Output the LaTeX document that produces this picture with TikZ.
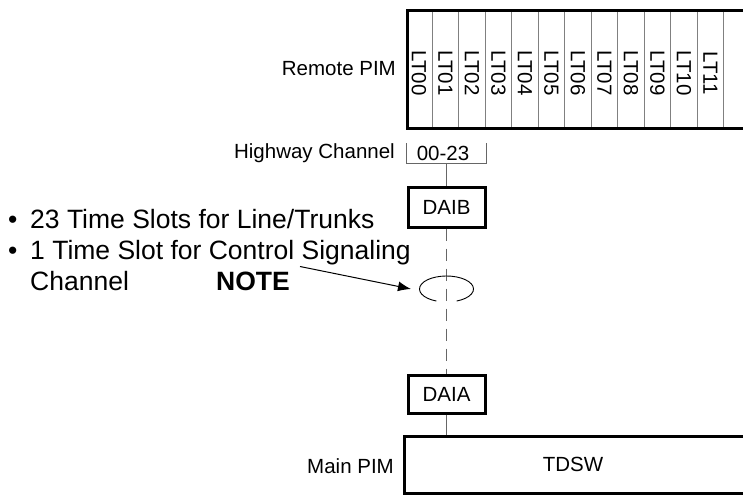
\documentclass[tikz,border=0pt]{standalone}
\usepackage{fontspec}
\setmainfont{Liberation Sans}
\usetikzlibrary{arrows.meta}
\begin{document}
\begin{tikzpicture}[x=1pt,y=-1pt,
  lbl/.style={inner sep=0pt,font=\fontsize{20.5}{24}\selectfont},
  box/.style={draw,line width=3pt,inner sep=0pt,font=\fontsize{20.5}{24}\selectfont},
  slot/.style={lbl,rotate=-90},
  divider/.style={draw=black!50,line width=0.9pt},
  link/.style={draw=black!60,line width=1pt},
  trunk/.style={draw=black!60,line width=1.3pt,dash pattern=on 12pt off 8pt},
  bullettext/.style={inner sep=0pt,anchor=base west,font=\fontsize{26.5}{31}\selectfont}]
\useasboundingbox (0,0) rectangle (743,495);

% remote PIM shelf with its twelve line/trunk slots
\node[box,minimum width=345pt,minimum height=117pt] (remote) at (579.5,69.5) {};
\foreach \k in {1,...,12}
  \draw[divider] ({405.5+26.5*\k},12.5) -- ({405.5+26.5*\k},126.5);
\foreach \k/\t in {0/LT00,1/LT01,2/LT02,3/LT03,4/LT04,5/LT05,6/LT06,7/LT07,8/LT08,9/LT09,10/LT10,11/LT11}
  \node[slot] (lt\k) at ({419+26.5*\k},73) {\t};
\node[lbl,anchor=east] (remlbl) at (396,69) {Remote PIM};

% highway channel bracket
\node[lbl,anchor=east] (hwlbl) at (395,153) {Highway Channel};
\draw[link] (406,143) |- (486,163) -- (486,143);
\node[lbl] (hwrange) at (443,153) {00-23};
\coordinate (hw) at (446.5,163);

% interface cards and the main PIM
\node[box,minimum width=77pt,minimum height=40pt] (daib) at (446.5,207) {DAIB};
\node[box,minimum width=77pt,minimum height=38pt] (daia) at (446.5,394) {DAIA};
\node[box,minimum width=348pt,minimum height=57pt] (tdsw) at (578,464.5) {\hspace*{-10pt}TDSW};
\node[lbl,anchor=east] (mainlbl) at (394,466) {Main PIM};

\draw[link] (hw) -- (daib.north);
\draw[trunk] (daib.south) -- (daia.north);
\draw[link] (daia.south) -- (daia.south |- tdsw.north);

% control signaling channel ring
\coordinate (ring) at (446.5,289);
\draw[line width=0.9pt] (ring) ++(112:27 and 13) arc[start angle=112,end angle=428,x radius=27,y radius=13];

% notes
\node[bullettext] (b1) at (8,228.5) {\textbullet};
\node[bullettext] (t1) at (30,228.5) {23 Time Slots for Line/Trunks};
\node[bullettext] (b2) at (8,259.5) {\textbullet};
\node[bullettext] (t2) at (30,259.5) {1 Time Slot for Control Signaling};
\node[bullettext] (t3) at (30,290.5) {Channel};
\node[bullettext,font=\fontsize{26.5}{31}\selectfont\bfseries] (nt) at (216,290.5) {NOTE};

\coordinate (arrowfrom) at (300,266.5);
\coordinate (ringW) at (411,289);
\draw[line width=1pt,-{Latex[length=13pt,width=10pt]}] (arrowfrom) -- (ringW);
\end{tikzpicture}
\end{document}
